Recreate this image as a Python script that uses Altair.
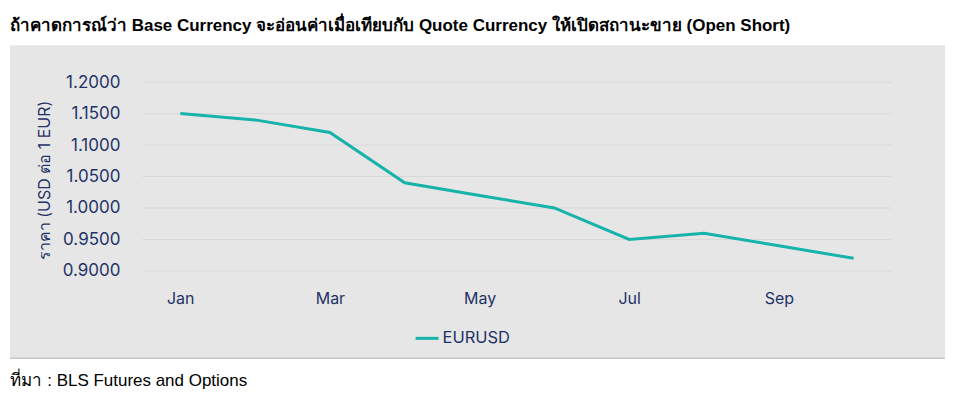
import altair as alt
import pandas as pd

months = ["Jan", "Feb", "Mar", "Apr", "May", "Jun", "Jul", "Aug", "Sep", "Oct"]
eurusd = [1.150, 1.140, 1.120, 1.040, 1.020, 1.000, 0.950, 0.960, 0.940, 0.920]
series_name = "EURUSD"
y_ticks = [0.90, 0.95, 1.00, 1.05, 1.10, 1.15, 1.20]
x_label_months = ["Jan", "Mar", "May", "Jul", "Sep"]

title_text = "ถ้าคาดการณ์ว่า Base Currency จะอ่อนค่าเมื่อเทียบกับ Quote Currency ให้เปิดสถานะขาย (Open Short)"
y_title = "ราคา (USD ต่อ 1 EUR)"
source_text = "ที่มา : BLS Futures and Options"

df = pd.DataFrame({"month": months, "value": eurusd, "series": series_name})
grid_df = pd.DataFrame({"value": y_ticks})

navy = "#1f3366"
teal = "#16b3aa"
label_font = "Inter"

y_scale = alt.Scale(domain=[0.9, 1.2], zero=False, nice=False)
y_axis = alt.Axis(
    values=y_ticks,
    format=".4f",
    labelFont=label_font,
    labelFontSize=17,
    labelColor=navy,
    labelPadding=23,
    ticks=False,
    domain=False,
    grid=False,
    zindex=1,
    title=y_title,
    titleFont=label_font,
    titleFontSize=16,
    titleFontWeight="normal",
    titleColor=navy,
    titleAngle=270,
    titleAlign="center",
    titleBaseline="middle",
    titleX=-98,
    titleY=98,
)

panel = alt.Chart(alt.Data(values=[{"p": 1}])).mark_rect(color="#e6e6e6").encode(
    x=alt.value(-133), x2=alt.value(803), y=alt.value(-37), y2=alt.value(276)
)
panel_edge = alt.Chart(alt.Data(values=[{"p": 1}])).mark_rule(color="#c6c6c6", strokeWidth=1.5).encode(
    x=alt.value(-133), x2=alt.value(803), y=alt.value(276.5)
)

grid = alt.Chart(grid_df).mark_rule(color="#d8d8d8", strokeWidth=1).encode(
    y=alt.Y("value:Q", scale=y_scale, axis=y_axis),
    x=alt.value(0),
    x2=alt.value(749),
)

line = alt.Chart(df).mark_line(strokeWidth=3).encode(
    x=alt.X(
        "month:N",
        sort=months,
        scale=alt.Scale(type="point", padding=0.5),
        axis=alt.Axis(
            values=x_label_months,
            labelAngle=0,
            labelFont=label_font,
            labelFontSize=16,
            labelColor=navy,
            labelPadding=20,
            ticks=False,
            domain=False,
            grid=False,
            zindex=1,
            title=source_text,
            titleFont="Liberation Sans",
            titleFontSize=17,
            titleFontWeight="normal",
            titleColor="#000000",
            titleAnchor="start",
            titleAlign="left",
            titleBaseline="alphabetic",
            titleX=-133,
            titleY=115,
        ),
    ),
    y=alt.Y("value:Q", scale=y_scale, axis=y_axis),
    color=alt.Color(
        "series:N",
        scale=alt.Scale(range=[teal]),
        legend=alt.Legend(
            title=None,
            orient="none",
            legendX=271,
            legendY=243,
            symbolType="stroke",
            symbolStrokeWidth=3,
            symbolSize=530,
            labelFont=label_font,
            labelFontSize=16.5,
            labelColor=navy,
            labelOffset=2,
        ),
    ),
)

chart = alt.layer(panel, panel_edge, grid, line).properties(
    width=749,
    height=189,
    autosize=alt.AutoSizeParams(type="none"),
    padding={"left": 135, "top": 74, "right": 60, "bottom": 120},
    background="#ffffff",
    title=alt.TitleParams(
        text=title_text,
        font="Liberation Sans",
        fontSize=17,
        fontWeight="bold",
        color="#000000",
        anchor="start",
        frame="group",
        baseline="alphabetic",
        dx=-133,
        offset=0,
        dy=3,
    ),
).configure_view(stroke=None)

chart.save("out.html", embed_options={"renderer": "svg", "actions": False})
